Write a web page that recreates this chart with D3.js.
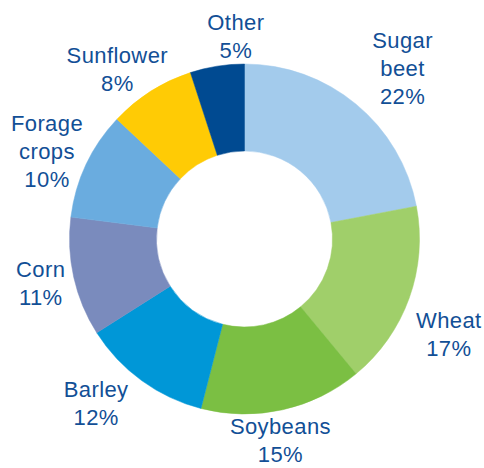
<!DOCTYPE html>
<html>
<head>
<meta charset="utf-8">
<script src="https://cdn.jsdelivr.net/npm/d3@7"></script>
<style>
  html, body { margin: 0; padding: 0; background: #ffffff; }
  svg { display: block; }
</style>
</head>
<body>
<svg id="chart" width="484" height="468"></svg>
<script>
// Crop shares, clockwise from twelve o'clock
const crops = ["Sugar beet", "Wheat", "Soybeans", "Barley", "Corn", "Forage crops", "Sunflower", "Other"];
const shares = [22, 17, 15, 12, 11, 10, 8, 5];
// Label text lines for each crop
const labelLines = [["Sugar", "beet"], ["Wheat"], ["Soybeans"], ["Barley"], ["Corn"], ["Forage", "crops"], ["Sunflower"], ["Other"]];
const sliceColors = ["#a3cbec", "#a0cf6a", "#7bbf43", "#0097d7", "#7a8bbd", "#6aacdf", "#ffcb05", "#004a91"];

// Layout
const width = 484, height = 468;
const cx = 244.5, cy = 239;
const innerR = 88, outerR = 175, labelR = 215;
const lineH = 28;
// Fine adjustments of each label block around its radial anchor
const labelNudge = [[21, -5], [2, 22], [-11, -9], [-22, -10], [6, -3], [-3, 4], [-12, 12], [25, 9]];

const data = crops.map((c, i) => ({ crop: c, value: shares[i], lines: labelLines[i], color: sliceColors[i] }));

const svg = d3.select("#chart");
const g = svg.append("g").attr("transform", `translate(${cx},${cy})`);

const pie = d3.pie().sort(null).value(d => d.value);
const arc = d3.arc().innerRadius(innerR).outerRadius(outerR);
const labelArc = d3.arc().innerRadius(labelR).outerRadius(labelR);

const arcs = pie(data);

g.selectAll("path.slice")
  .data(arcs)
  .join("path")
  .attr("class", "slice")
  .attr("d", arc)
  .attr("fill", d => d.data.color)
  .attr("stroke", d => d.data.color)
  .attr("stroke-width", 0.5);

g.selectAll("text.label")
  .data(arcs)
  .join("text")
  .attr("class", "label")
  .attr("text-anchor", "middle")
  .attr("font-family", "'Liberation Sans', Arial, sans-serif")
  .attr("font-size", 22)
  .attr("letter-spacing", 0.4)
  .attr("fill", "#124f96")
  .each(function (d, i) {
    const [x, y] = labelArc.centroid(d);
    const [nx, ny] = labelNudge[i];
    const lines = d.data.lines.concat([d.data.value + "%"]);
    const firstBase = y + ny - (lines.length - 1) * lineH / 2 + 8;
    const t = d3.select(this);
    lines.forEach((ln, k) => {
      t.append("tspan")
        .attr("x", x + nx)
        .attr("y", firstBase + k * lineH)
        .text(ln);
    });
  });
</script>
</body>
</html>
